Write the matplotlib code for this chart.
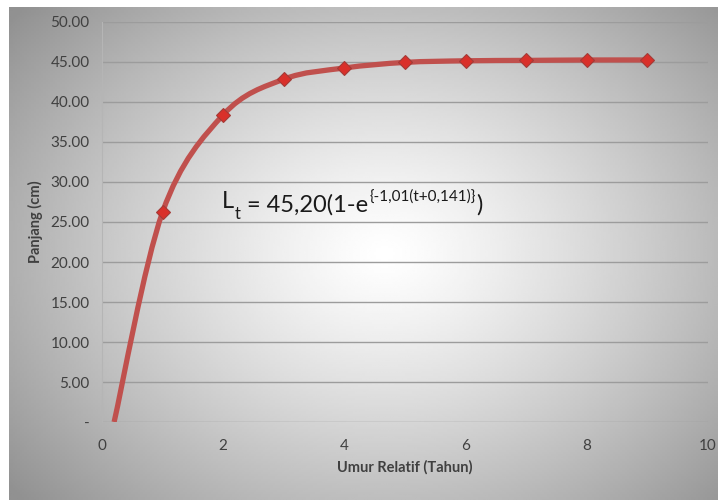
import matplotlib

matplotlib.use("Agg")
import matplotlib.pyplot as plt
import numpy as np
from matplotlib.path import Path
from matplotlib.patches import PathPatch

# values
umur = [0.2, 1, 2, 3, 4, 5, 6, 7, 8, 9]
panjang = [0.0, 26.25, 38.4, 42.85, 44.25, 44.95, 45.15, 45.2, 45.25, 45.25]
marker_umur = umur[1:]
marker_panjang = panjang[1:]

y_ticks = [0, 5, 10, 15, 20, 25, 30, 35, 40, 45, 50]
y_tick_labels = ["-"] + [f"{v:.2f}" for v in y_ticks[1:]]
x_ticks = [0, 2, 4, 6, 8, 10]

FONT = "Lato"
TEXT_COLOR = "#404040"
LINE_COLOR = "#c0504d"


def smooth_path(xs, ys, tension=1 / 6):
    """Excel-like smoothed line: Catmull-Rom segments as cubic Beziers."""
    pts = np.column_stack([xs, ys])
    n = len(pts)
    verts = [pts[0]]
    codes = [Path.MOVETO]
    for i in range(n - 1):
        p0 = pts[i - 1] if i > 0 else pts[i]
        p1 = pts[i]
        p2 = pts[i + 1]
        p3 = pts[i + 2] if i + 2 < n else pts[i + 1]
        c1 = p1 + (p2 - p0) * tension
        c2 = p2 - (p3 - p1) * tension
        verts += [c1, c2, p2]
        codes += [Path.CURVE4] * 3
    return Path(verts, codes)


fig = plt.figure(figsize=(7.18, 5.0), dpi=100)
fig.patch.set_facecolor("white")

# radial gradient background of the chart area
bg = fig.add_axes([9 / 718, 0, 709 / 718, 493 / 500], zorder=0)
gx, gy = np.meshgrid(np.linspace(0, 1, 300), np.linspace(0, 1, 220))
dist = np.sqrt(((gx - 0.53) / 0.72) ** 2 + ((gy - 0.5) / 0.8) ** 2)
shade = np.clip(1.0 - 0.46 * dist ** 1.25, 0.57, 1.0)
bg.imshow(shade, cmap="gray", vmin=0, vmax=1, aspect="auto",
          extent=(0, 1, 0, 1), origin="upper", interpolation="bilinear")
bg.set_axis_off()

ax = fig.add_axes([102 / 718, (500 - 422) / 500, 606 / 718, 400 / 500], zorder=1)
ax.patch.set_alpha(0)

ax.set_xlim(0, 10)
ax.set_ylim(0, 50)
ax.set_yticks(y_ticks)
ax.set_yticklabels(y_tick_labels)
ax.set_xticks(x_ticks)
ax.tick_params(axis="both", length=0, labelsize=11, labelcolor=TEXT_COLOR)
ax.tick_params(axis="x", pad=12)
ax.tick_params(axis="y", pad=9)
for lab in ax.get_xticklabels() + ax.get_yticklabels():
    lab.set_fontfamily(FONT)

ax.grid(axis="y", color="#9c9c9c", linewidth=1.0)
for side in ["top", "right", "bottom"]:
    ax.spines[side].set_visible(False)
ax.spines["left"].set_color("#b5b5b5")
ax.spines["left"].set_linewidth(0.8)

curve = smooth_path(umur, panjang)
ax.add_patch(PathPatch(curve, facecolor="none", edgecolor=LINE_COLOR,
                       linewidth=3.8, capstyle="butt", zorder=3))
ax.plot(marker_umur, marker_panjang, linestyle="none", marker="D",
        markersize=7.2, markerfacecolor="#d9302a", markeredgecolor="#a33b37",
        markeredgewidth=0.8, zorder=4)

ax.set_xlabel("Umur Relatif (Tahun)", fontsize=10.5, fontweight="bold",
              color=TEXT_COLOR, family=FONT, labelpad=5)
ax.set_ylabel("Panjang (cm)", fontsize=10.5, fontweight="bold",
              color=TEXT_COLOR, family=FONT, labelpad=5)

# equation label built from chained pieces, baselines tied to the "L"
eq_kw = dict(color="#1a1a1a", family=FONT, va="baseline", ha="left",
             textcoords="offset points")
t0 = ax.text(1.98, 26.8, "L", fontsize=17, va="baseline", ha="left",
             color="#1a1a1a", family=FONT)
t1 = ax.annotate("t", xy=(1, 0), xycoords=(t0, t0), xytext=(0.5, -5),
                 fontsize=12, **eq_kw)
t2 = ax.annotate(" = 45,20(1-e", xy=(1, 0), xycoords=(t1, t0), xytext=(0.5, 0),
                 fontsize=17, **eq_kw)
t3 = ax.annotate("{-1,01(t+0,141)}", xy=(1, 0), xycoords=(t2, t0), xytext=(0.5, 8),
                 fontsize=11, **eq_kw)
ax.annotate(")", xy=(1, 0), xycoords=(t3, t0), xytext=(0.5, 0),
            fontsize=17, **eq_kw)

fig.savefig("out.png", dpi=100)
plt.close(fig)
